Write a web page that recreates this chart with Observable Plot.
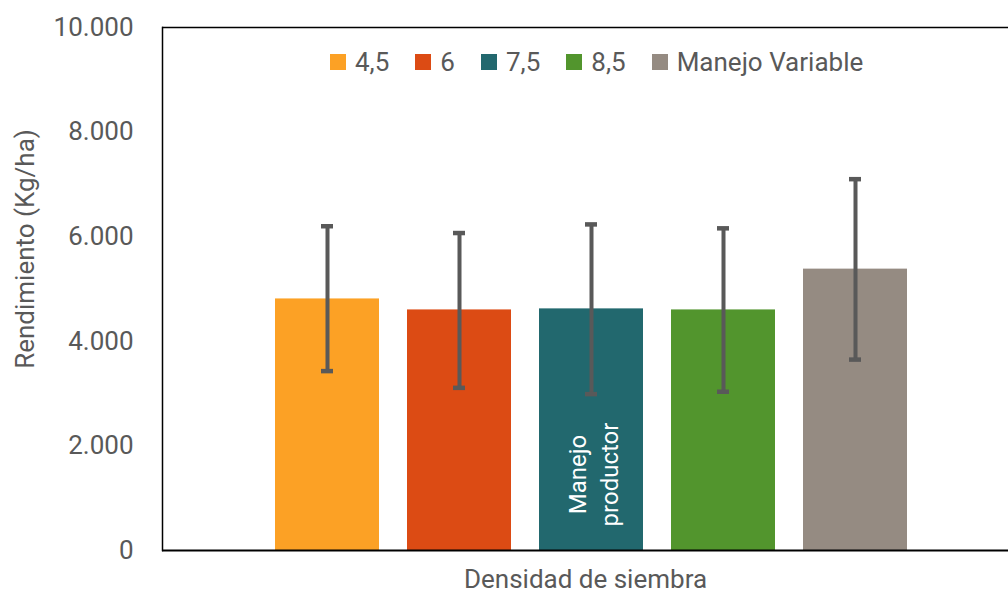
<!DOCTYPE html>
<html><head><meta charset="utf-8">
<script src="https://cdn.jsdelivr.net/npm/d3@7"></script>
<script src="https://cdn.jsdelivr.net/npm/@observablehq/plot@0.6"></script>
<style>
body{margin:0;background:#fff;overflow:hidden;font-family:Roboto,sans-serif;}
#wrap{position:relative;width:1008px;height:594px;}
#legend{position:absolute;left:330px;top:47px;display:flex;align-items:center;font-size:26px;color:#595959;line-height:30px;}
.item{display:flex;align-items:center;margin-right:26px;}
.sw{width:16px;height:16px;margin-right:9px;}
</style></head><body><div id="wrap"><div id="legend"></div></div>
<script>
const series = ["4,5", "6", "7,5", "8,5", "Manejo Variable"];
const rendimiento = [4810, 4600, 4620, 4600, 5380];
const errLow = [3430, 3110, 2990, 3035, 3650];
const errHigh = [6200, 6070, 6235, 6160, 7100];
const colors = ["#FCA125", "#DC4B14", "#22686E", "#52952D", "#958B82"];
const yTicks = [0, 2000, 4000, 6000, 8000, 10000];
const yTitle = "Rendimiento (Kg/ha)";
const xTitle = "Densidad de siembra";
const barNotes = [{series: "7,5", text: "Manejo\nproductor"}];

const data = series.map((s, i) => ({series: s, value: rendimiento[i], low: errLow[i], high: errHigh[i]}));
const fmt = d3.formatLocale({decimal: ",", thousands: ".", grouping: [3], currency: ["", ""]}).format(",d");
const grey = "#595959";

const chart = Plot.plot({
  width: 1008, height: 594,
  marginLeft: 162, marginRight: 0, marginTop: 27, marginBottom: 44,
  style: {fontFamily: "Roboto, sans-serif", fontSize: "26px", color: grey, background: "white"},
  x: {type: "band", domain: series, range: [162, 1020], paddingInner: 0.212, paddingOuter: 0.856, axis: null},
  y: {domain: [0, 10000], axis: null},
  color: {domain: series, range: colors},
  marks: [
    Plot.barY(data, {x: "series", y: "value", fill: "series"}),
    Plot.ruleX(data, {x: "series", y1: "low", y2: "high", stroke: grey, strokeWidth: 4}),
    Plot.tickY(data, {x: "series", y: "low", stroke: grey, strokeWidth: 4.5, insetLeft: 46, insetRight: 46}),
    Plot.tickY(data, {x: "series", y: "high", stroke: grey, strokeWidth: 4.5, insetLeft: 46, insetRight: 46}),
    Plot.text(barNotes, {x: "series", frameAnchor: "bottom", text: "text", rotate: -90, textAnchor: "middle", lineAnchor: "middle", fill: "white", fontSize: 24, lineHeight: 1.33, dy: -76}),
    Plot.ruleY([10000], {stroke: "#000", strokeWidth: 1.5}),
    Plot.ruleY([0], {stroke: "#000", strokeWidth: 2}),
    Plot.frame({anchor: "left", stroke: "#000", strokeWidth: 1.5}),
    Plot.axisY({ticks: yTicks, tickSize: 0, tickPadding: 29, tickFormat: fmt, label: null, fontSize: 26, fill: grey}),
    Plot.text([yTitle], {text: d => d, frameAnchor: "left", rotate: -90, textAnchor: "middle", lineAnchor: "middle", dx: -137, dy: -40, fontSize: 26, fill: grey}),
    Plot.text([xTitle], {text: d => d, frameAnchor: "bottom", textAnchor: "middle", lineAnchor: "middle", dy: 29, fontSize: 26, fill: grey})
  ]
});
document.getElementById("wrap").prepend(chart);

const legend = document.getElementById("legend");
series.forEach((s, i) => {
  const it = document.createElement("div");
  it.className = "item";
  const sw = document.createElement("span");
  sw.className = "sw";
  sw.style.background = colors[i];
  const t = document.createElement("span");
  t.textContent = s;
  it.append(sw, t);
  legend.append(it);
});
</script>
</body></html>
